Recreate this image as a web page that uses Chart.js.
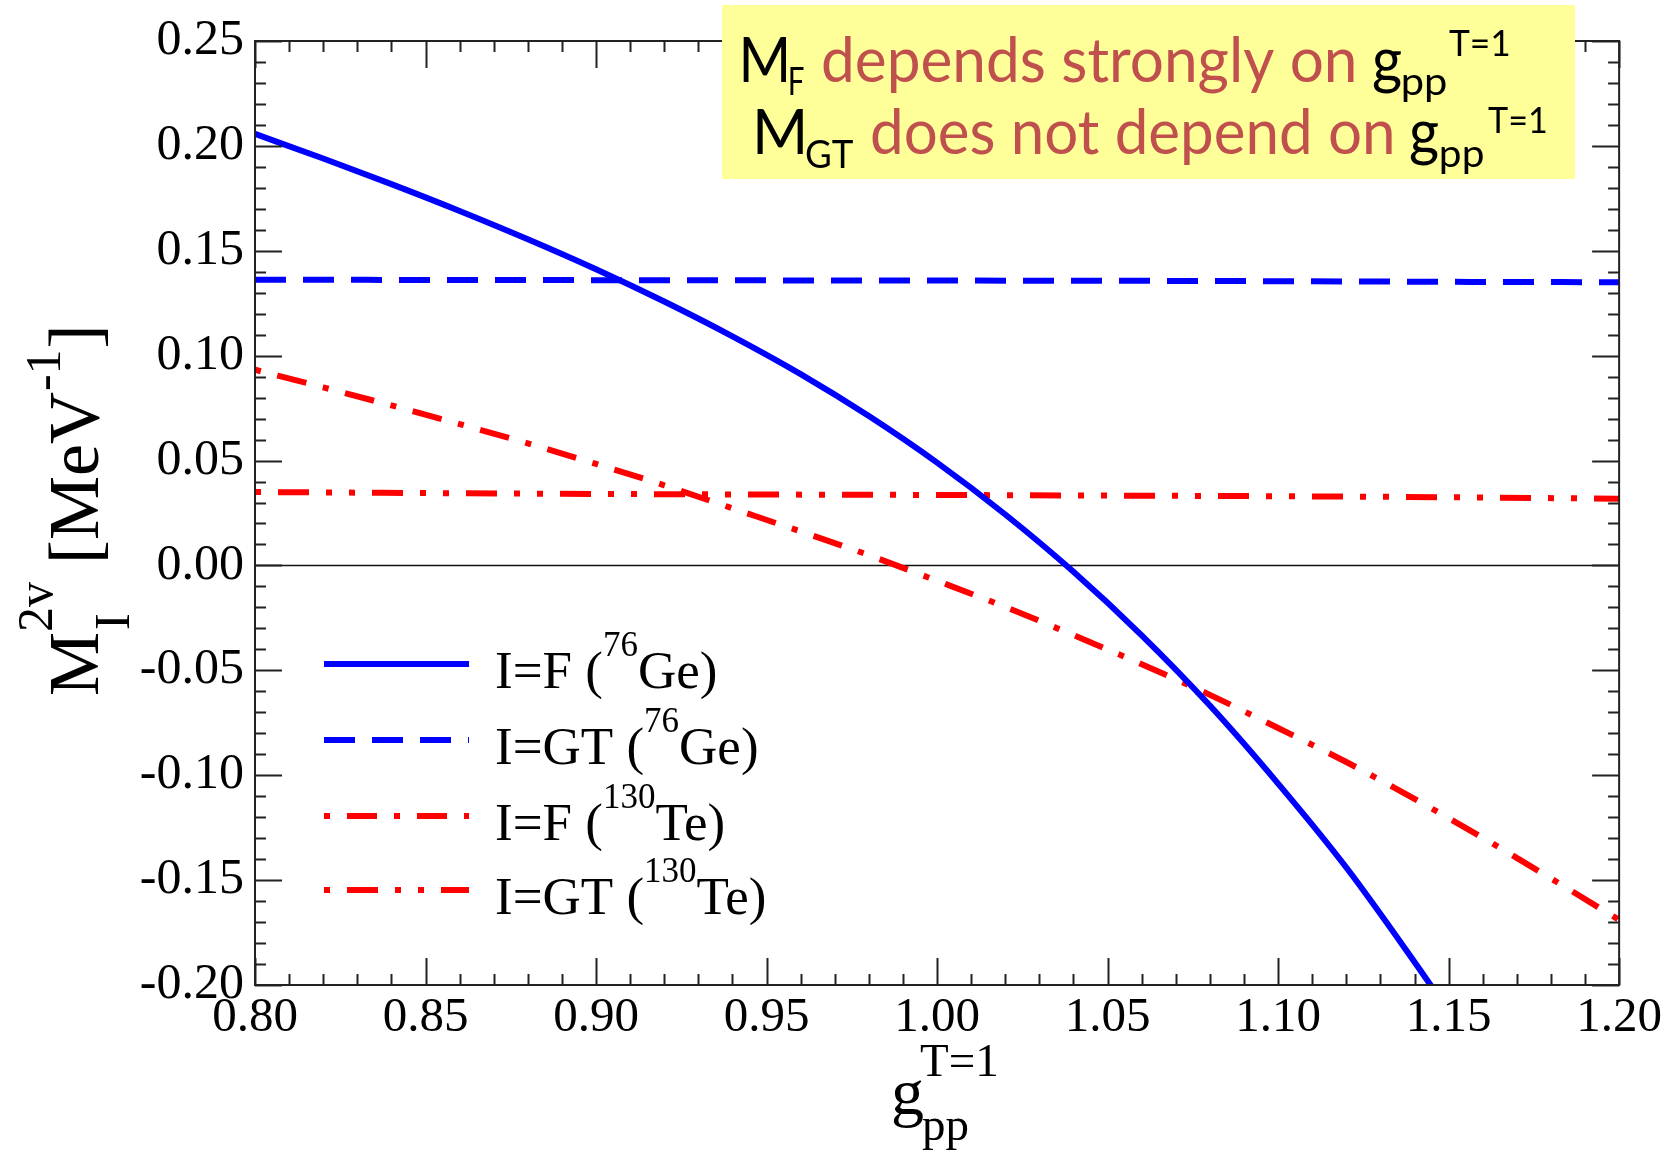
<!DOCTYPE html>
<html>
<head>
<meta charset="utf-8">
<script src="https://cdn.jsdelivr.net/npm/chart.js@4.4.1/dist/chart.umd.min.js"></script>
<style>
  html, body { margin: 0; padding: 0; background: #ffffff; }
  #wrap { width: 1666px; height: 1150px; position: relative; }
</style>
</head>
<body>
<div id="wrap"><canvas id="c" width="1666" height="1150"></canvas></div>
<script>
// g_pp^{T=1} values and 2vbb matrix elements (MeV^-1)
const gppF_Ge  = [0.80, 0.82, 0.84, 0.86, 0.88, 0.90, 0.92, 0.94, 0.96, 0.98, 1.00, 1.02, 1.04, 1.06, 1.08, 1.10, 1.12, 1.14, 1.15];
const mF_Ge    = [0.2057, 0.1940, 0.1818, 0.1690, 0.1555, 0.1412, 0.1258, 0.1092, 0.0912, 0.0712, 0.0490, 0.0243, -0.0030, -0.0333, -0.0668, -0.1040, -0.1440, -0.1890, -0.2125];

const gppGT    = [0.80, 0.85, 0.90, 0.95, 1.00, 1.05, 1.10, 1.15, 1.20];
const mGT_Ge   = [0.1362, 0.1361, 0.1360, 0.1359, 0.1358, 0.1357, 0.1355, 0.1352, 0.1350];

const gppF_Te  = [0.80, 0.82, 0.84, 0.86, 0.88, 0.90, 0.92, 0.94, 0.96, 0.98, 1.00, 1.02, 1.04, 1.06, 1.08, 1.10, 1.12, 1.14, 1.16, 1.18, 1.20];
const mF_Te    = [0.0933, 0.0849, 0.0763, 0.0674, 0.0582, 0.0484, 0.0382, 0.0272, 0.0162, 0.0049, -0.0073, -0.0198, -0.0332, -0.0471, -0.0617, -0.0775, -0.0937, -0.1113, -0.1298, -0.1492, -0.1690];

const mGT_Te   = [0.0350, 0.0345, 0.0341, 0.0338, 0.0336, 0.0333, 0.0330, 0.0325, 0.0318];

const xTickLabels = ['0.80', '0.85', '0.90', '0.95', '1.00', '1.05', '1.10', '1.15', '1.20'];
const yTickLabels = ['-0.20', '-0.15', '-0.10', '-0.05', '0.00', '0.05', '0.10', '0.15', '0.20', '0.25'];

// legend entries: [main text, superscript mass number, element + bracket]
const legendItems = [
  ['I=F (', '76', 'Ge)'],
  ['I=GT (', '76', 'Ge)'],
  ['I=F (', '130', 'Te)'],
  ['I=GT (', '130', 'Te)']
];

const SERIF = '"Liberation Serif", "Times New Roman", serif';
const SANS = 'Lato, "Open Sans", "Noto Sans", sans-serif';
const BLUE = '#0000ff';
const RED = '#ff0000';
const NOTE_RED = '#c0504d';

function pts(xs, ys) { return xs.map((x, i) => ({ x: x, y: ys[i] })); }

const datasets = [
  { label: 'I=F (76Ge)', data: pts(gppF_Ge, mF_Ge), borderColor: BLUE, borderWidth: 6, borderDash: [], borderDashOffset: 0 },
  { label: 'I=GT (76Ge)', data: pts(gppGT, mGT_Ge), borderColor: BLUE, borderWidth: 6, borderDash: [31, 17], borderDashOffset: 0 },
  { label: 'I=F (130Te)', data: pts(gppF_Te, mF_Te), borderColor: RED, borderWidth: 6, borderDash: [30, 17, 6, 17], borderDashOffset: 47 },
  { label: 'I=GT (130Te)', data: pts(gppGT, mGT_Te), borderColor: RED, borderWidth: 6, borderDash: [31, 17, 6, 17, 6, 17], borderDashOffset: 71 }
].map(d => Object.assign(d, { pointRadius: 0, fill: false, cubicInterpolationMode: 'monotone', clip: 0 }));

// zero line under the curves
const zeroLine = {
  id: 'zeroLine',
  beforeDatasetsDraw(chart) {
    const { ctx, chartArea: a, scales: { y } } = chart;
    const py = Math.round(y.getPixelForValue(0)) + 0.5;
    ctx.save();
    ctx.strokeStyle = '#111';
    ctx.lineWidth = 1.5;
    ctx.beginPath();
    ctx.moveTo(a.left, py);
    ctx.lineTo(a.right, py);
    ctx.stroke();
    ctx.restore();
  }
};

// frame with inward major/minor ticks on all four sides
const frameTicks = {
  id: 'frameTicks',
  afterDatasetsDraw(chart) {
    const { ctx, chartArea: a, scales: { x, y } } = chart;
    const MAJ = 27, MIN = 11;
    ctx.save();
    ctx.strokeStyle = '#222';
    ctx.lineWidth = 2;
    ctx.strokeRect(a.left, a.top, a.right - a.left, a.bottom - a.top);
    ctx.beginPath();
    for (let i = -20; i <= 25; i++) {
      const py = Math.round(y.getPixelForValue(i / 100)) + 0.5;
      const len = (i % 5 === 0) ? MAJ : MIN;
      ctx.moveTo(a.left, py); ctx.lineTo(a.left + len, py);
      ctx.moveTo(a.right, py); ctx.lineTo(a.right - len, py);
    }
    for (let i = 80; i <= 120; i++) {
      const px = Math.round(x.getPixelForValue(i / 100)) + 0.5;
      const len = (i % 5 === 0) ? MAJ : MIN;
      ctx.moveTo(px, a.bottom); ctx.lineTo(px, a.bottom - len);
      ctx.moveTo(px, a.top); ctx.lineTo(px, a.top + len);
    }
    ctx.stroke();
    ctx.restore();
  }
};

// axis titles, legend and the yellow note
const decorations = {
  id: 'decorations',
  afterDraw(chart) {
    const ctx = chart.ctx;
    ctx.save();
    ctx.fillStyle = '#000';
    ctx.textBaseline = 'alphabetic';

    // y title, rotated: M_I^{2v} [MeV^{-1}]
    ctx.save();
    ctx.translate(98, 696);
    ctx.rotate(-Math.PI / 2);
    let u = 0;
    ctx.font = '72px ' + SERIF;
    ctx.fillText('M', u, 0); u += ctx.measureText('M').width;
    ctx.font = '50px ' + SERIF;
    ctx.fillText('I', u + 2, 31);
    ctx.fillText('2v', u, -46);
    u += Math.max(ctx.measureText('2v').width, ctx.measureText('I').width);
    ctx.font = '72px ' + SERIF;
    ctx.fillText(' [MeV', u, 0); u += ctx.measureText(' [MeV').width;
    ctx.font = '50px ' + SERIF;
    ctx.fillText('-1', u + 1, -38); u += ctx.measureText('-1').width + 2;
    ctx.font = '72px ' + SERIF;
    ctx.fillText(']', u, 0);
    ctx.restore();

    // x title: g_pp^{T=1}
    ctx.font = '66px ' + SERIF;
    ctx.fillText('g', 891, 1114);
    ctx.font = '47px ' + SERIF;
    ctx.fillText('pp', 922, 1140);
    ctx.fillText('T=1', 920, 1076);

    // legend
    const rowY = [664, 740, 816, 890];
    chart.data.datasets.forEach((ds, i) => {
      const yy = rowY[i];
      ctx.save();
      ctx.strokeStyle = ds.borderColor;
      ctx.lineWidth = ds.borderWidth;
      ctx.setLineDash(ds.borderDash);
      ctx.lineDashOffset = ds.borderDashOffset;
      ctx.beginPath();
      ctx.moveTo(324, yy);
      ctx.lineTo(469, yy);
      ctx.stroke();
      ctx.restore();
      const [t1, sup, t2] = legendItems[i];
      let lx = 495;
      const base = yy + 24;
      ctx.font = '53px ' + SERIF;
      ctx.fillText(t1, lx, base); lx += ctx.measureText(t1).width;
      ctx.font = '35px ' + SERIF;
      ctx.fillText(sup, lx, base - 32); lx += ctx.measureText(sup).width;
      ctx.font = '53px ' + SERIF;
      ctx.fillText(t2, lx, base);
    });

    // note box
    ctx.fillStyle = '#ffff99';
    ctx.fillRect(722, 5, 853, 174);

    // draw a text run with its ink fitted to [x, x + w]
    function seg(text, x, base, size, color, w) {
      ctx.font = size + 'px ' + SANS;
      const m = ctx.measureText(text);
      const ink = m.actualBoundingBoxLeft + m.actualBoundingBoxRight;
      const sx = w / ink;
      ctx.save();
      ctx.fillStyle = color;
      ctx.translate(x, base);
      ctx.scale(sx, 1);
      ctx.fillText(text, m.actualBoundingBoxLeft, 0);
      ctx.restore();
    }
    seg('M', 743, 82, 62, '#000', 43);
    seg('F', 790, 95, 38, '#000', 14);
    seg('depends strongly on', 823, 82, 62, NOTE_RED, 531);
    seg('g', 1373, 82, 62, '#000', 28);
    seg('pp', 1403, 95, 38, '#000', 43);
    seg('T=1', 1449, 56, 36, '#000', 60);

    seg('M', 757, 154, 62, '#000', 46);
    seg('GT', 806, 168, 38, '#000', 47);
    seg('does not depend on', 872, 154, 62, NOTE_RED, 520);
    seg('g', 1410, 154, 62, '#000', 28);
    seg('pp', 1441, 167, 38, '#000', 42);
    seg('T=1', 1488, 133, 36, '#000', 58);

    ctx.restore();
  }
};

new Chart(document.getElementById('c'), {
  type: 'line',
  data: { datasets: datasets },
  options: {
    responsive: false,
    animation: false,
    devicePixelRatio: 1,
    layout: { padding: { top: 40, right: 44, left: 0, bottom: 0 } },
    plugins: { legend: { display: false }, tooltip: { enabled: false } },
    scales: {
      x: {
        type: 'linear',
        min: 0.8, max: 1.2,
        grid: { display: false, drawTicks: false },
        border: { display: false },
        afterFit(s) { s.height = 165; },
        afterBuildTicks(s) { s.ticks = xTickLabels.map(t => ({ value: parseFloat(t) })); },
        ticks: {
          padding: 4,
          color: '#000',
          maxRotation: 0,
          autoSkip: false,
          font: { family: SERIF, size: 49 },
          callback: (v) => xTickLabels.find(t => Math.abs(parseFloat(t) - v) < 1e-6)
        }
      },
      y: {
        type: 'linear',
        min: -0.2, max: 0.25,
        grid: { display: false, drawTicks: false },
        border: { display: false },
        afterFit(s) { s.width = 255; },
        afterBuildTicks(s) { s.ticks = yTickLabels.map(t => ({ value: parseFloat(t) })); },
        ticks: {
          padding: 11,
          color: '#000',
          autoSkip: false,
          font: { family: SERIF, size: 50 },
          callback: (v) => yTickLabels.find(t => Math.abs(parseFloat(t) - v) < 1e-6)
        }
      }
    }
  },
  plugins: [zeroLine, frameTicks, decorations]
});
</script>
</body>
</html>
